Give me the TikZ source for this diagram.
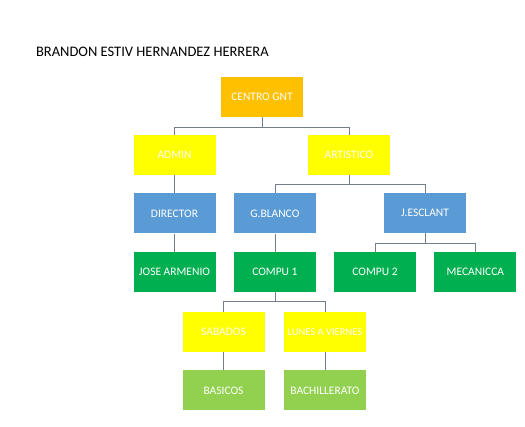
\documentclass[tikz,border=0pt]{standalone}
\usepackage{fontspec}
\setmainfont{Carlito}
\usetikzlibrary{positioning}
\definecolor{gntorange}{HTML}{FFC000}
\definecolor{gntyellow}{HTML}{FFFF00}
\definecolor{gntblue}{HTML}{5B9BD5}
\definecolor{gntgreen}{HTML}{00B050}
\definecolor{gntlime}{HTML}{92D050}
\definecolor{gntline}{RGB}{115,125,140}

\begin{document}
\begin{tikzpicture}[
    x=1pt, y=-1pt,
    node distance=18pt and 18pt,
    block/.style={rectangle, minimum width=82pt, minimum height=40pt, inner sep=0pt, align=center, text=white, font=\fontsize{11.5}{13}\selectfont},
    link/.style={draw=gntline, line width=0.8pt}
]
    \useasboundingbox (0,0) rectangle (525,427);

    % Title
    \node[anchor=west, font=\fontsize{14.5}{16}\selectfont] (title) at (32.5,52) {BRANDON ESTIV HERNANDEZ HERRERA};

    % Level 1 and 2
    \node[block, fill=gntorange] (centro) at (262,97) {CENTRO GNT};
    \node[block, fill=gntyellow] (admin) at (174.5,155) {ADMIN};
    \node[block, fill=gntyellow] (artis) at (349,155) {ARTISTICO};

    % Level 3
    \node[block, fill=gntblue, below=of admin] (director) {DIRECTOR};
    \node[block, fill=gntblue, right=of director] (gblanco) {G.BLANCO};
    \node[block, fill=gntblue] (jesclant) at (425,213) {J.ESCLANT};

    % Level 4
    \node[block, fill=gntgreen, below=of director] (jose) {JOSE ARMENIO};
    \node[block, fill=gntgreen, below=of gblanco] (compu1) {COMPU 1};
    \node[block, fill=gntgreen] (compu2) at (375,272) {COMPU 2};
    \node[block, fill=gntgreen, right=of compu2] (meca) {MECANICCA};

    % Level 5 and 6
    \node[block, fill=gntyellow] (sabados) at (223.5,332) {SABADOS};
    \node[block, fill=gntyellow, right=19pt of sabados, font=\fontsize{10.5}{12}\selectfont] (lunes) {LUNES A VIERNES};
    \node[block, fill=gntlime, below=of sabados] (basicos) {BASICOS};
    \node[block, fill=gntlime, below=of lunes] (bach) {BACHILLERATO};

    % Connectors
    \draw[link] (centro.south) -- ++(0,10) -| (admin.north);
    \draw[link] (centro.south) -- ++(0,10) -| (artis.north);
    \draw[link] (admin) -- (director);
    \draw[link] (artis.south) -- ++(0,9) -| (gblanco.north);
    \draw[link] (artis.south) -- ++(0,9) -| (jesclant.north);
    \draw[link] (director) -- (jose);
    \draw[link] (gblanco) -- (compu1);
    \draw[link] (jesclant.south) -- ++(0,10) -| (compu2.north);
    \draw[link] (jesclant.south) -- ++(0,10) -| (meca.north);
    \draw[link] (compu1.south) -- ++(0,9) -| (sabados.north);
    \draw[link] (compu1.south) -- ++(0,9) -| (lunes.north);
    \draw[link] (sabados) -- (basicos);
    \draw[link] (lunes) -- (bach);
\end{tikzpicture}
\end{document}
